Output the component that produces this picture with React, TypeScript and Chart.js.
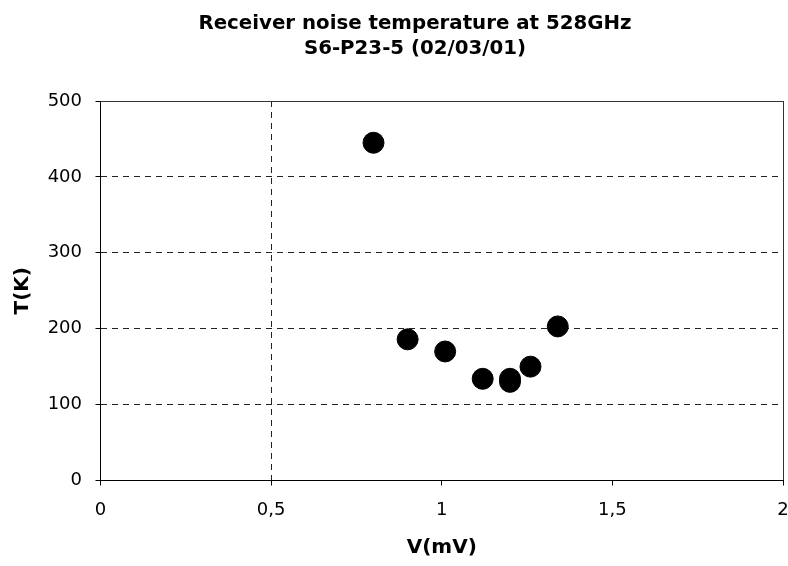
import React, { useEffect, useRef } from 'react';
import { Chart, registerables } from 'chart.js';

Chart.register(...registerables);

const TITLE_LINES = ['Receiver noise temperature at 528GHz', 'S6-P23-5 (02/03/01)'];
const X_TITLE = 'V(mV)';
const Y_TITLE = 'T(K)';
const BIAS_VOLTAGE = [0.8, 0.9, 1.01, 1.12, 1.2, 1.2, 1.26, 1.34];
const NOISE_TEMPERATURE = [445, 186, 170, 134, 134, 130, 150, 203];
const X_TICKS = [0, 0.5, 1, 1.5, 2];
const Y_TICKS = [0, 100, 200, 300, 400, 500];
const X_DASHED_AT = [0.5];
const X_SOLID_AT = [2];
const Y_DASHED_AT = [100, 200, 300, 400];
const Y_SOLID_AT = [500];

const FONT = 'DejaVu Sans';
const GRID_COLOR = '#222';
const FRAME_COLOR = '#333';
const NONE = 'rgba(0,0,0,0)';
const DASH = [6, 5];

function gridColor(dashed: number[], solid: number[]) {
  return (c: any) => {
    const v = c.tick?.value;
    if (solid.includes(v)) return FRAME_COLOR;
    if (dashed.includes(v)) return GRID_COLOR;
    return NONE;
  };
}
function gridDash(solid: number[]) {
  return (c: any) => (c.tick && solid.includes(c.tick.value) ? [] : DASH);
}

export default function App() {
  const ref = useRef<HTMLCanvasElement>(null);

  useEffect(() => {
    const canvas = ref.current;
    if (!canvas) return;
    const chart = new Chart(canvas, {
      type: 'scatter',
      data: {
        datasets: [
          {
            data: BIAS_VOLTAGE.map((x, i) => ({ x, y: NOISE_TEMPERATURE[i] })),
            backgroundColor: '#000',
            borderColor: '#000',
            borderWidth: 1,
            pointRadius: 10.5,
            pointHoverRadius: 10.5,
            showLine: false,
          },
        ],
      },
      options: {
        responsive: false,
        animation: false,
        devicePixelRatio: 1,
        layout: { autoPadding: false, padding: { left: 47, right: 5, top: 0, bottom: 2 } },
        plugins: {
          legend: { display: false },
          tooltip: { enabled: false },
          title: {
            display: true,
            text: TITLE_LINES,
            color: '#000',
            font: { family: FONT, size: 19.8, weight: 'bold', lineHeight: 25 / 19.8 },
            padding: { top: 11.5, bottom: 39.5 },
          },
        },
        scales: {
          x: {
            type: 'linear',
            position: 'bottom',
            min: 0,
            max: 2,
            afterBuildTicks: (s: any) => {
              s.ticks = X_TICKS.map((value) => ({ value }));
            },
            afterFit: (s: any) => {
              s.height = 83.5;
              s.paddingLeft = 0;
              s.paddingRight = 0;
            },
            ticks: {
              color: '#000',
              font: { family: FONT, size: 18 },
              padding: 14,
              maxRotation: 0,
              autoSkip: false,
              callback: (v: any) => String(v).replace('.', ','),
            },
            grid: {
              color: gridColor(X_DASHED_AT, X_SOLID_AT),
              tickColor: '#000',
              tickLength: 5,
              tickBorderDash: [],
              lineWidth: 1,
            },
            border: { display: true, color: '#000', width: 1, dash: gridDash(X_SOLID_AT) },
            title: {
              display: true,
              text: X_TITLE,
              color: '#000',
              font: { family: FONT, size: 20, weight: 'bold' },
              padding: { top: 4, bottom: 4 },
            },
          },
          y: {
            type: 'linear',
            position: 'left',
            min: 0,
            max: 500,
            afterBuildTicks: (s: any) => {
              s.ticks = Y_TICKS.map((value) => ({ value }));
            },
            afterFit: (s: any) => {
              s.width = 53.5;
            },
            ticks: {
              color: '#000',
              font: { family: FONT, size: 18 },
              padding: 13.5,
              autoSkip: false,
              callback: (v: any) => String(v),
            },
            grid: {
              color: gridColor(Y_DASHED_AT, Y_SOLID_AT),
              tickColor: '#000',
              tickLength: 5,
              tickBorderDash: [],
              lineWidth: 1,
            },
            border: { display: true, color: '#000', width: 1, dash: gridDash(Y_SOLID_AT) },
            title: {
              display: true,
              text: Y_TITLE,
              color: '#000',
              font: { family: FONT, size: 20, weight: 'bold' },
              padding: { top: -36, bottom: 4 },
            },
          },
        },
      } as any,
    });
    return () => chart.destroy();
  }, []);

  return (
    <div style={{ position: 'fixed', left: 0, top: 0, width: 788, height: 566, background: '#fff' }}>
      <canvas ref={ref} width={788} height={566} style={{ display: 'block', width: 788, height: 566 }} />
    </div>
  );
}
